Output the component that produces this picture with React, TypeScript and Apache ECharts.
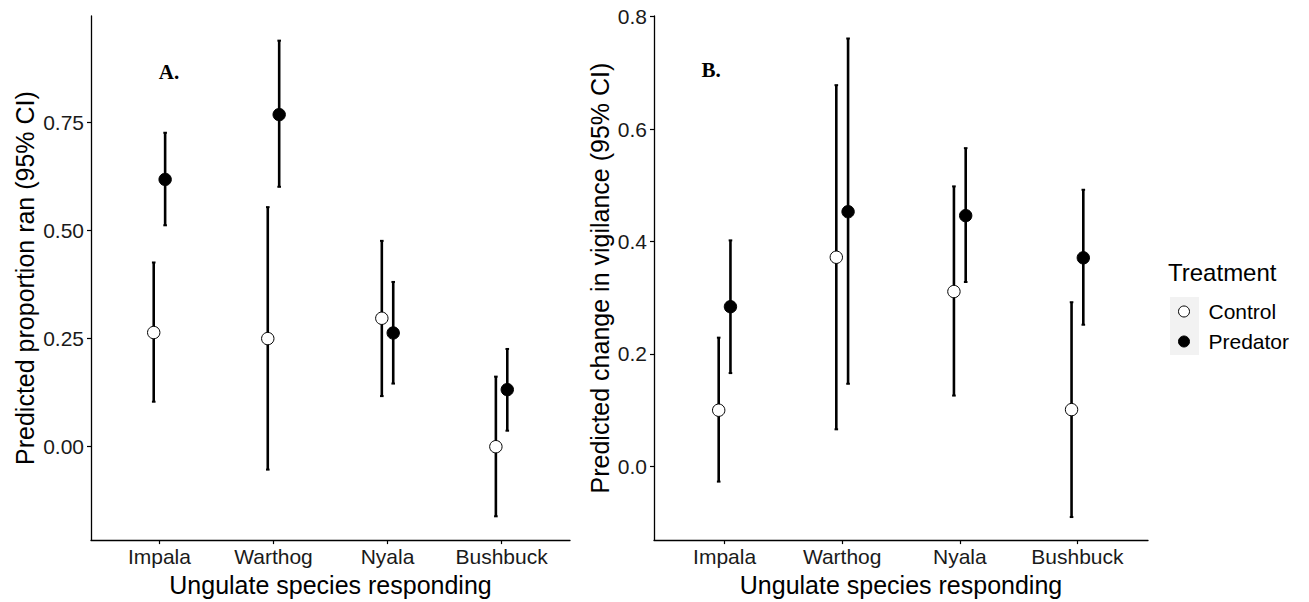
import React, { useEffect, useRef } from "react";
import * as echarts from "echarts";

const species = ["Impala", "Warthog", "Nyala", "Bushbuck"];
const treatments = ["Control", "Predator"];

// Panel A: predicted proportion ran
const ranControlMean = [0.264, 0.25, 0.297, 0.0];
const ranControlLow = [0.104, -0.053, 0.117, -0.161];
const ranControlHigh = [0.426, 0.554, 0.476, 0.162];
const ranPredatorMean = [0.618, 0.768, 0.263, 0.132];
const ranPredatorLow = [0.512, 0.601, 0.146, 0.037];
const ranPredatorHigh = [0.726, 0.939, 0.381, 0.226];

// Panel B: predicted change in vigilance
const vigControlMean = [0.1, 0.372, 0.311, 0.101];
const vigControlLow = [-0.027, 0.066, 0.126, -0.09];
const vigControlHigh = [0.229, 0.678, 0.498, 0.292];
const vigPredatorMean = [0.284, 0.453, 0.446, 0.371];
const vigPredatorLow = [0.166, 0.147, 0.328, 0.252];
const vigPredatorHigh = [0.402, 0.761, 0.566, 0.492];

const ranTicks = [0, 0.25, 0.5, 0.75];
const vigTicks = [0, 0.2, 0.4, 0.6, 0.8];

const FONT = '"Liberation Sans", Arial, sans-serif';

function rows(mean: number[], low: number[], high: number[]) {
  return mean.map((m, i) => [i, m, low[i], high[i]]);
}

function makeSeries(
  name: string,
  idx: number,
  data: number[][],
  dodge: number,
  fill: string
) {
  return {
    type: "custom",
    name,
    xAxisIndex: idx,
    yAxisIndex: idx,
    itemStyle: { color: fill, borderColor: "#000", borderWidth: 1 },
    encode: { x: 0, y: [1, 2, 3] },
    data,
    renderItem: (params: any, api: any) => {
      const x = api.value(0) + dodge;
      const pm = api.coord([x, api.value(1)]);
      const pl = api.coord([x, api.value(2)]);
      const ph = api.coord([x, api.value(3)]);
      const cap = 1.8;
      return {
        type: "group",
        children: [
          {
            type: "line",
            shape: { x1: pl[0], y1: pl[1], x2: ph[0], y2: ph[1] },
            style: { stroke: "#000", lineWidth: 2.6 },
          },
          {
            type: "line",
            shape: { x1: pl[0] - cap, y1: pl[1], x2: pl[0] + cap, y2: pl[1] },
            style: { stroke: "#000", lineWidth: 2 },
          },
          {
            type: "line",
            shape: { x1: ph[0] - cap, y1: ph[1], x2: ph[0] + cap, y2: ph[1] },
            style: { stroke: "#000", lineWidth: 2 },
          },
          {
            type: "circle",
            shape: { cx: pm[0], cy: pm[1], r: 6.2 },
            style: { fill, stroke: "#000", lineWidth: 1 },
          },
        ],
      };
    },
  };
}

function xAxisDef(gridIndex: number) {
  return {
    type: "value",
    gridIndex,
    min: -0.6,
    max: 3.6,
    name: "Ungulate species responding",
    nameLocation: "middle",
    nameGap: 30,
    nameTextStyle: { fontSize: 25, color: "#000", fontFamily: FONT },
    axisLine: { onZero: false, lineStyle: { color: "#000", width: 1.3 } },
    axisTick: { length: 4, lineStyle: { color: "#000", width: 1.2 }, customValues: [0, 1, 2, 3] },
    axisLabel: {
      customValues: [0, 1, 2, 3],
      formatter: (v: number) => species[Math.round(v)] ?? "",
      fontSize: 21,
      color: "#1a1a1a",
      fontFamily: FONT,
      margin: 6,
    },
    splitLine: { show: false },
  };
}

function yAxisDef(
  gridIndex: number,
  min: number,
  max: number,
  ticks: number[],
  digits: number,
  name: string,
  nameGap: number
) {
  return {
    type: "value",
    gridIndex,
    min,
    max,
    name,
    nameLocation: "middle",
    nameGap,
    nameTextStyle: { fontSize: 25, color: "#000", fontFamily: FONT },
    axisLine: { show: true, onZero: false, lineStyle: { color: "#000", width: 1.3 } },
    axisTick: { show: true, length: 4, lineStyle: { color: "#000", width: 1.2 }, customValues: ticks },
    axisLabel: {
      customValues: ticks,
      formatter: (v: number) => v.toFixed(digits),
      fontSize: 21,
      color: "#1a1a1a",
      fontFamily: FONT,
      margin: 7,
    },
    splitLine: { show: false },
  };
}

export default function App() {
  const ref = useRef<HTMLDivElement>(null);
  useEffect(() => {
    if (!ref.current) return;
    const chart = echarts.init(ref.current, null, { renderer: "svg" });
    const option: any = {
      animation: false,
      backgroundColor: "#fff",
      grid: [
        { left: 91, right: 739, top: 16, bottom: 58 },
        { left: 654, right: 161, top: 16, bottom: 58 },
      ],
      xAxis: [xAxisDef(0), xAxisDef(1)],
      yAxis: [
        yAxisDef(0, -0.216, 0.996, ranTicks, 2, "Predicted proportion ran (95% CI)", 54),
        yAxisDef(1, -0.131, 0.801, vigTicks, 1, "Predicted change in vigilance (95% CI)", 42),
      ],
      legend: {
        orient: "vertical",
        left: 1173,
        top: 296,
        itemWidth: 11,
        itemHeight: 11,
        itemGap: 9,
        textStyle: { fontSize: 21, lineHeight: 21, color: "#000", fontFamily: FONT, padding: [0, 0, 0, 14] },
        data: [
          { name: treatments[0], icon: "circle", itemStyle: { color: "#fff", borderColor: "#000", borderWidth: 1 } },
          { name: treatments[1], icon: "circle", itemStyle: { color: "#000", borderColor: "#000", borderWidth: 1 } },
        ],
      },
      graphic: [
        { type: "rect", z: -1, shape: { x: 1170, y: 297, width: 29, height: 58 }, style: { fill: "#f2f2f2" } },
        {
          type: "text",
          x: 1168,
          y: 272,
          style: { text: "Treatment", fontSize: 24, fontFamily: FONT, fill: "#000", textVerticalAlign: "middle" },
        },
        {
          type: "text",
          x: 169,
          y: 72,
          style: {
            text: "A.",
            font: 'bold 21px "Liberation Serif", "Times New Roman", serif',
            fill: "#000",
            textAlign: "center",
            textVerticalAlign: "middle",
          },
        },
        {
          type: "text",
          x: 711,
          y: 70,
          style: {
            text: "B.",
            font: 'bold 21px "Liberation Serif", "Times New Roman", serif',
            fill: "#000",
            textAlign: "center",
            textVerticalAlign: "middle",
          },
        },
      ],
      series: [
        makeSeries(treatments[0], 0, rows(ranControlMean, ranControlLow, ranControlHigh), -0.05, "#fff"),
        makeSeries(treatments[1], 0, rows(ranPredatorMean, ranPredatorLow, ranPredatorHigh), 0.05, "#000"),
        makeSeries(treatments[0], 1, rows(vigControlMean, vigControlLow, vigControlHigh), -0.05, "#fff"),
        makeSeries(treatments[1], 1, rows(vigPredatorMean, vigPredatorLow, vigPredatorHigh), 0.05, "#000"),
      ],
    };
    chart.setOption(option);
    return () => chart.dispose();
  }, []);
  return (
    <div
      ref={ref}
      style={{ position: "absolute", left: 0, top: 0, width: 1309, height: 602, background: "#fff" }}
    />
  );
}
